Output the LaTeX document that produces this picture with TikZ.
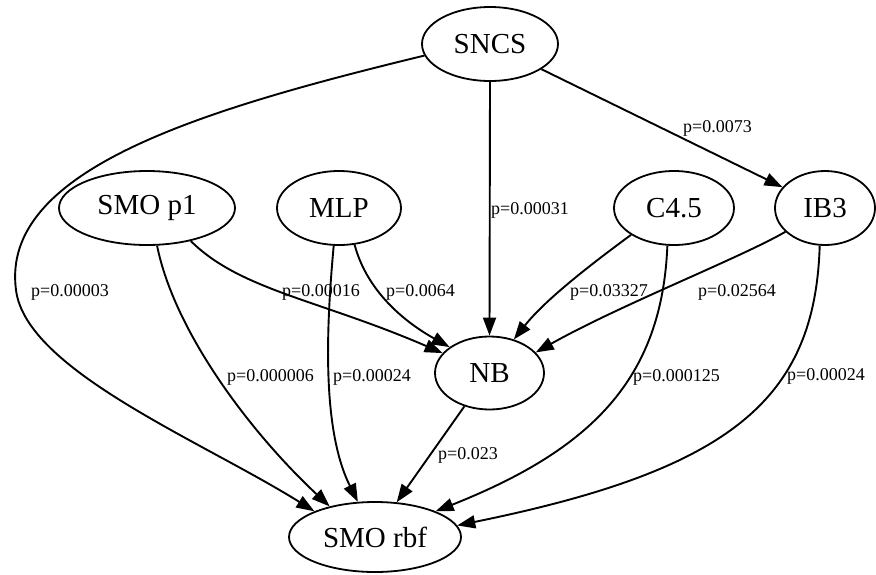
\documentclass[tikz,border=0pt]{standalone}
\usepackage{fontspec}
\setmainfont{Liberation Serif}
\usetikzlibrary{shapes.geometric,arrows.meta}
\newcommand{\algofont}{\fontsize{29}{30}\selectfont}
\newcommand{\pfont}{\fontsize{18}{19}\selectfont}
\tikzset{
  algo/.style={ellipse, draw, line width=1.8pt, inner sep=0pt, font=\algofont},
  dep/.style={line width=1.9pt, -{Triangle[length=18pt,width=13pt]}},
  plab/.style={anchor=base west, inner sep=0pt, font=\pfont}
}

\begin{document}
\begin{tikzpicture}[x=1pt, y=-1pt]
  \useasboundingbox (0,0) rectangle (876,574);
  % classifiers
  \node[algo, minimum width=136pt, minimum height=74pt] (sncs)    at (490,44)    {SNCS};
  \node[algo, minimum width=176pt, minimum height=74pt] (smop1)   at (147,208)   {SMO p1};
  \node[algo, minimum width=124pt, minimum height=74pt] (mlp)     at (339,208)   {MLP};
  \node[algo, minimum width=120pt, minimum height=74pt] (cfour)   at (674,208)   {C4.5};
  \node[algo, minimum width=100pt, minimum height=74pt] (ibthree) at (825,208)   {IB3};
  \node[algo, minimum width=109pt, minimum height=73pt] (nb)      at (489.5,373) {NB};
  \node[algo, minimum width=172pt, minimum height=70pt] (smorbf)  at (375,537)   {SMO rbf};
  % significant differences
  \draw[dep] (sncs.190) .. controls (200,110) and (0,170) .. (16,290)
                        .. controls (26,370) and (200,440) .. (smorbf.157);
  \draw[dep] (sncs.270) -- (nb.90);
  \draw[dep] (sncs) -- (ibthree);
  \draw[dep] (smop1.323) .. controls (240,290) and (320,300) .. (nb.157);
  \draw[dep] (smop1.285) .. controls (174,330) and (248,430) .. (smorbf.146);
  \draw[dep] (mlp.262) .. controls (326,330) and (322,430) .. (smorbf.116);
  \draw[dep] (mlp.293) .. controls (368,295) and (410,325) .. (nb.147);
  \draw[dep] (cfour.212) .. controls (590,265) and (545,300) .. (nb.54);
  \draw[dep] (cfour.260) .. controls (662,380) and (590,450) .. (smorbf.23);
  \draw[dep] (ibthree.211) .. controls (740,258) and (620,305) .. (nb.24);
  \draw[dep] (ibthree.262) .. controls (815,400) and (730,470) .. (smorbf.8);
  \draw[dep] (nb.233) -- (smorbf.58);
  % p-values
  \node[plab] (p1)  at (31,296)  {p=0.00003};
  \node[plab] (p2)  at (491,214) {p=0.00031};
  \node[plab] (p3)  at (683,132) {p=0.0073};
  \node[plab] (p4)  at (282,296) {p=0.00016};
  \node[plab] (p5)  at (227,381) {p=0.000006};
  \node[plab] (p6)  at (333,381) {p=0.00024};
  \node[plab] (p7)  at (386,296) {p=0.0064};
  \node[plab] (p8)  at (570,296) {p=0.03327};
  \node[plab] (p9)  at (633,381) {p=0.000125};
  \node[plab] (p10) at (698,296) {p=0.02564};
  \node[plab] (p11) at (787,380) {p=0.00024};
  \node[plab] (p12) at (438,459) {p=0.023};
\end{tikzpicture}
\end{document}
